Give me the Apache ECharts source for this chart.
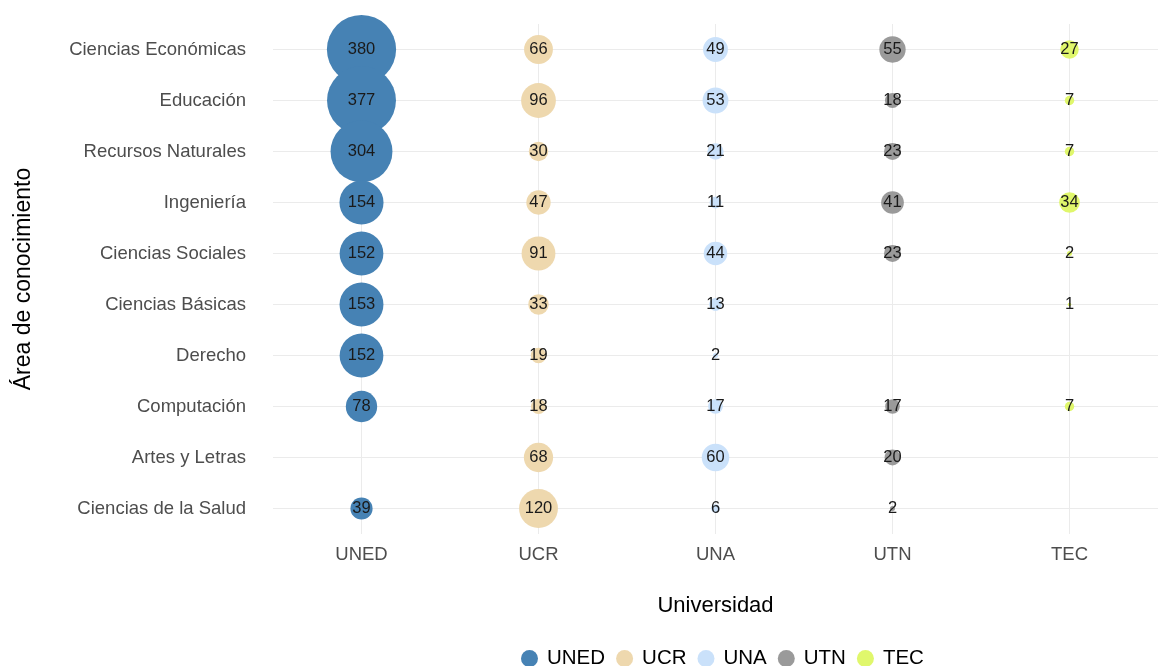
<!DOCTYPE html>
<html>
<head>
<meta charset="utf-8">
<script src="https://cdn.jsdelivr.net/npm/echarts@6/dist/echarts.min.js"></script>
<style>
html,body{margin:0;padding:0;background:#fff;}
#chart{width:1164px;height:666px;}
</style>
</head>
<body>
<div id="chart"></div>
<script>
const areas = ['Ciencias Económicas', 'Educación', 'Recursos Naturales', 'Ingeniería', 'Ciencias Sociales', 'Ciencias Básicas', 'Derecho', 'Computación', 'Artes y Letras', 'Ciencias de la Salud'];
const universities = ['UNED', 'UCR', 'UNA', 'UTN', 'TEC'];
const uned = [380, 377, 304, 154, 152, 153, 152, 78, null, 39];
const ucr  = [66, 96, 30, 47, 91, 33, 19, 18, 68, 120];
const una  = [49, 53, 21, 11, 44, 13, 2, 17, 60, 6];
const utn  = [55, 18, 23, 41, 23, null, null, 17, 20, 2];
const tec  = [27, 7, 7, 34, 2, 1, null, 7, null, null];
const colors = ['#4682B4', '#EED8AE', '#CAE1FA', '#9A9A9A', '#E0F76C'];

const seriesValues = [uned, ucr, una, utn, tec];
const FONT = '"Liberation Sans", Arial, sans-serif';

const series = universities.map(function (u, i) {
  const data = [];
  seriesValues[i].forEach(function (v, j) {
    if (v !== null) data.push([u, areas[j], v]);
  });
  return {
    name: u,
    type: 'scatter',
    data: data,
    symbol: 'circle',
    symbolSize: function (d) { return 3.55 * Math.sqrt(d[2]); },
    itemStyle: { color: colors[i], opacity: 1 },
    label: {
      show: true,
      position: 'inside',
      formatter: function (p) { return p.value[2]; },
      color: '#1a1a1a',
      fontSize: 16.5,
      fontFamily: FONT
    },
    emphasis: { disabled: true }
  };
});

const chart = echarts.init(document.getElementById('chart'), null, { renderer: 'canvas' });
chart.setOption({
  animation: false,
  backgroundColor: '#ffffff',
  grid: { left: 273, top: 24, width: 885, height: 510, containLabel: false },
  xAxis: {
    type: 'category',
    data: universities,
    boundaryGap: true,
    axisLine: { show: false },
    axisTick: { show: false },
    axisLabel: { color: '#4D4D4D', fontSize: 18.5, fontFamily: FONT, margin: 11 },
    splitLine: { show: true, alignWithLabel: true, lineStyle: { color: '#EBEBEB', width: 1 } },
    name: 'Universidad',
    nameLocation: 'middle',
    nameGap: 61,
    nameTextStyle: { color: '#000', fontSize: 22, fontFamily: FONT }
  },
  yAxis: {
    type: 'category',
    data: areas,
    inverse: true,
    boundaryGap: true,
    axisLine: { show: false },
    axisTick: { show: false },
    axisLabel: { color: '#4D4D4D', fontSize: 18.5, fontFamily: FONT, margin: 27 },
    splitLine: { show: true, alignWithLabel: true, lineStyle: { color: '#EBEBEB', width: 1 } },
    name: 'Área de conocimiento',
    nameLocation: 'middle',
    nameGap: 238,
    nameRotate: 90,
    nameTextStyle: { color: '#000', fontSize: 23, fontFamily: FONT }
  },
  legend: {
    data: universities,
    left: 516,
    top: 643,
    icon: 'circle',
    itemWidth: 17,
    itemHeight: 17,
    itemGap: 11,
    textStyle: { color: '#000', fontSize: 20.5, fontFamily: FONT, padding: [0, 0, 0, 4] }
  },
  series: series
});
</script>
</body>
</html>
